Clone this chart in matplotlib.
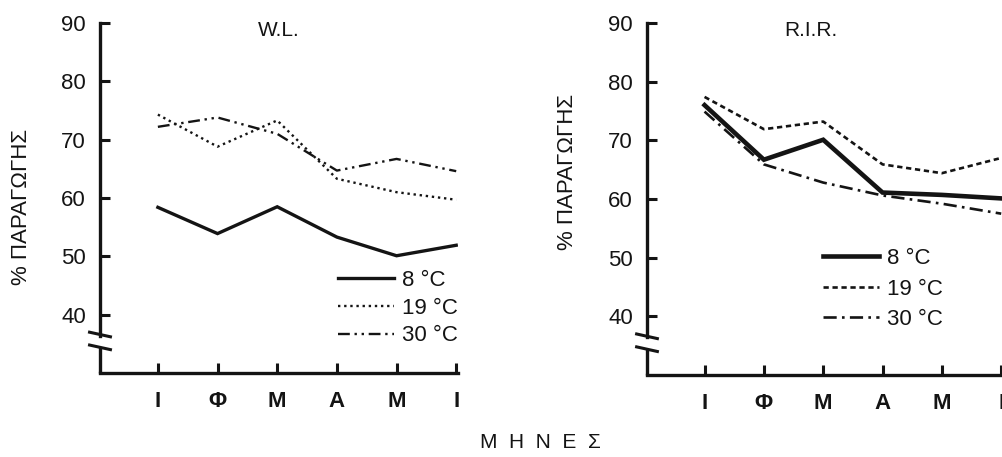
import matplotlib
matplotlib.use("Agg")
import matplotlib.pyplot as plt

plt.rcParams['font.family'] = ['Liberation Sans', 'DejaVu Sans']

# data
months = ["Ι", "Φ", "Μ", "Α", "Μ", "Ι"]
temps = ["8 °C", "19 °C", "30 °C"]
yticks = [40, 50, 60, 70, 80, 90]

wl_8 = [58.4, 53.9, 58.5, 53.3, 50.1, 51.9]
wl_19 = [74.3, 68.8, 73.3, 63.3, 61.0, 59.7]
wl_30 = [72.2, 73.8, 71.0, 64.7, 66.7, 64.6]

rir_8 = [76.0, 66.7, 70.1, 61.1, 60.7, 60.1]
rir_19 = [77.4, 71.9, 73.2, 65.9, 64.4, 67.0]
rir_30 = [74.9, 65.9, 62.8, 60.6, 59.2, 57.5]

INK = "#141414"
W, H = 1003, 457


def draw_panel(ax, title, title_x, series, styles, leg_anchor, leg_spacing):
    x = range(1, len(months) + 1)
    handles = []
    for vals, lab, (ls, lw) in zip(series, temps, styles):
        ln, = ax.plot(x, vals, color=INK, linestyle=ls, linewidth=lw,
                      solid_joinstyle="miter", label=lab)
        handles.append(ln)

    ax.set_xlim(0.03, 6.03)
    ax.set_ylim(30, 90)
    ax.set_xticks(list(x))
    ax.set_xticklabels(months, fontsize=16, fontweight="bold")
    ax.set_yticks(yticks)
    ax.set_yticklabels([str(v) for v in yticks], fontsize=16)
    ax.tick_params(axis="x", direction="in", length=7, width=2.2, pad=13, colors=INK)
    ax.tick_params(axis="y", direction="in", length=7, width=2.2, pad=10, colors=INK)

    for s in ("top", "right"):
        ax.spines[s].set_visible(False)
    for s in ("left", "bottom"):
        ax.spines[s].set_linewidth(2.4)
        ax.spines[s].set_color(INK)

    # broken y axis
    x0 = 0.03
    ax.spines["left"].set_bounds(36.4, 90)
    ax.plot([x0, x0], [30, 34.4], color=INK, lw=2.4, clip_on=False,
            solid_capstyle="butt")
    for yc in (36.6, 34.4):
        ax.plot([x0 - 0.2, x0 + 0.2], [yc + 0.45, yc - 0.45], color=INK,
                lw=2.2, clip_on=False, solid_capstyle="butt")

    ax.text(title_x, 0.978, title, transform=ax.transAxes, ha="center",
            va="center", fontsize=15, color=INK)

    fig = ax.figure
    ax.legend(handles=handles, loc="upper left",
              bbox_to_anchor=(leg_anchor[0] / W, 1 - leg_anchor[1] / H),
              bbox_transform=fig.transFigure, frameon=False, fontsize=16,
              handlelength=2.5, handletextpad=0.4, labelspacing=leg_spacing,
              borderpad=0, borderaxespad=0, labelcolor=INK)


fig = plt.figure(figsize=(W / 100, H / 100), dpi=100)
ax1 = fig.add_axes([100 / W, 84 / H, 358 / W, 350 / H])
ax2 = fig.add_axes([647 / W, 82 / H, 356 / W, 352 / H])

draw_panel(ax1, "W.L.", 0.5, [wl_8, wl_19, wl_30],
           [("-", 2.4), ((0, (1, 1.6)), 1.7), ((0, (5, 2, 1, 2, 1, 2)), 1.7)],
           (338, 270), 0.3)
draw_panel(ax2, "R.I.R.", 0.461, [rir_8, rir_19, rir_30],
           [("-", 3.3), ((0, (2, 1.4)), 1.9), ((0, (5, 2, 1, 2)), 1.9)],
           (823, 248), 0.43)

ylab = "% ΠΑΡΑΓΩΓΗΣ"
fig.text(22 / W, 1 - 207 / H, ylab, rotation=90, ha="center", va="center",
         fontsize=16, color=INK)
fig.text(568 / W, 1 - 172 / H, ylab, rotation=90, ha="center", va="center",
         fontsize=16, color=INK)
fig.text(540 / W, 1 - 442 / H, "Μ  Η  Ν  Ε  Σ", ha="center", va="center",
         fontsize=15, color=INK)

fig.savefig("out.png", dpi=100)
